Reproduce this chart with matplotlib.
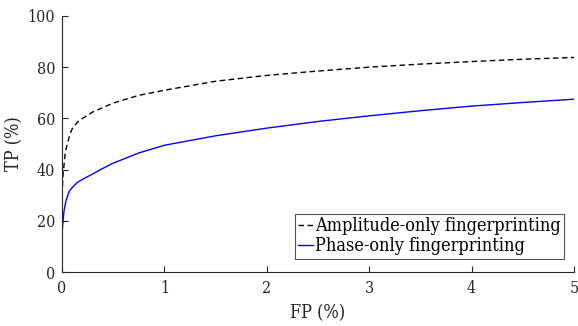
import numpy as np
import matplotlib.pyplot as plt

# ROC-like curves
fp_amp = [0, 0.01, 0.03, 0.05, 0.08, 0.1, 0.15, 0.2, 0.3, 0.5, 0.75, 1.0, 1.5, 2.0, 2.5, 3.0, 3.5, 4.0, 4.5, 5.0]
tp_amp = [30, 38, 46, 50, 54, 56, 58.5, 60, 62.5, 66, 69, 71, 74.5, 76.8, 78.5, 80, 81.2, 82.2, 83.1, 83.8]

fp_phase = [0, 0.01, 0.02, 0.04, 0.07, 0.1, 0.15, 0.2, 0.3, 0.4, 0.5, 0.75, 1.0, 1.5, 2.0, 2.5, 3.0, 3.5, 4.0, 4.5, 5.0]
tp_phase = [15, 20, 24, 28, 31.5, 33, 35, 36.2, 38.3, 40.5, 42.5, 46.5, 49.5, 53.2, 56.2, 58.8, 61, 63, 64.8, 66.2, 67.5]

plt.rcParams['font.family'] = 'DejaVu Serif'
plt.rcParams['font.stretch'] = 'condensed'
ink = '#262626'

fig = plt.figure(figsize=(5.78, 3.26), dpi=100)
ax = fig.add_axes([0.1073, 0.1656, 0.8857, 0.7854])

ax.plot(fp_amp, tp_amp, color='black', linestyle='--', linewidth=1.0,
        dashes=(4, 2.5), label='Amplitude-only fingerprinting')
ax.plot(fp_phase, tp_phase, color='blue', linewidth=1.0, label='Phase-only fingerprinting')

ax.set_xlim(0, 5)
ax.set_ylim(0, 100)
ax.set_xticks([0, 1, 2, 3, 4, 5])
ax.set_yticks([0, 20, 40, 60, 80, 100])
ax.set_xlabel('FP (%)', fontsize=13, color=ink, labelpad=5)
ax.set_ylabel('TP (%)', fontsize=13, color=ink, labelpad=3)

for side in ['top', 'right']:
    ax.spines[side].set_visible(False)
for side in ['left', 'bottom']:
    ax.spines[side].set_color(ink)
    ax.spines[side].set_linewidth(0.8)
ax.tick_params(direction='in', length=4, width=0.8, colors=ink, labelsize=11.5)
ax.tick_params(axis='x', pad=6)
ax.tick_params(axis='y', pad=5)

leg = ax.legend(loc='lower right', fontsize=13, frameon=True, fancybox=False,
                handlelength=0.8, handletextpad=0.1, borderpad=0.2,
                labelspacing=0.12, bbox_to_anchor=(564 / 578, 67 / 326),
                bbox_transform=fig.transFigure, borderaxespad=0)
leg.get_frame().set_edgecolor(ink)
leg.get_frame().set_linewidth(0.8)

fig.savefig('out.png', dpi=100)
